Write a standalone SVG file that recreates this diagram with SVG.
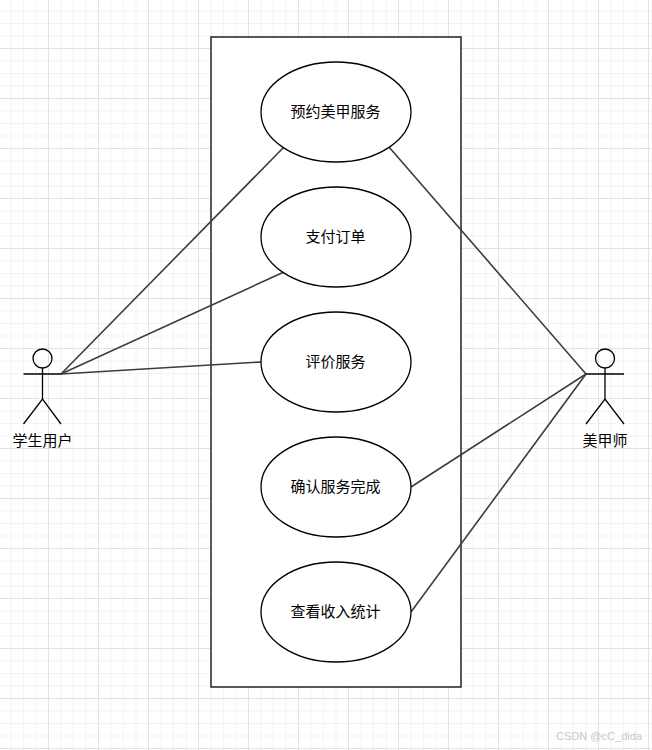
<svg xmlns="http://www.w3.org/2000/svg" width="652" height="750" viewBox="0 0 652 750">
<style>
.minor{stroke:#f3f3f3;stroke-width:1;fill:none}
.major{stroke:#e2e2e2;stroke-width:1;fill:none}
.shape{fill:#fff;stroke:#000;stroke-width:1.3}
.stick{fill:none;stroke:#000;stroke-width:1.3}
.conn{fill:none;stroke:#3c3c3c;stroke-width:1.6}
text{font-family:"Noto Sans CJK SC","Liberation Sans",sans-serif;font-size:15px;font-weight:400;text-anchor:middle;fill:#000}
.wm{font-family:"Liberation Sans",sans-serif;font-size:11px;font-weight:400;fill:#c8c8c8;text-anchor:start}
</style>
<defs>
<pattern id="grid" width="50" height="50" patternUnits="userSpaceOnUse" x="-2" y="-2">
<path class="minor" d="M13 0V50M25.500 0V50M38 0V50M0 13H50M0 25.500H50M0 38H50"/>
<path class="major" d="M0.500 0V50M0 0.500H50"/>
</pattern>
</defs>
<rect width="652" height="750" fill="#fff"/>
<rect width="652" height="750" fill="url(#grid)"/>
<rect id="boundary" class="shape" x="211" y="37" width="250" height="650"/>
<g id="connectors">
<path class="conn" d="M61 374L284 147"/>
<path class="conn" d="M61 374L284 272"/>
<path class="conn" d="M61 374L261 362"/>
<path class="conn" d="M586 374L389 147"/>
<path class="conn" d="M586 374L411 487"/>
<path class="conn" d="M586 374L411 612"/>
</g>
<g id="uc1"><ellipse class="shape" cx="336" cy="112" rx="75" ry="50"/><text x="335.500" y="117">预约美甲服务</text></g>
<g id="uc2"><ellipse class="shape" cx="336" cy="237" rx="75" ry="50"/><text x="335.500" y="242">支付订单</text></g>
<g id="uc3"><ellipse class="shape" cx="336" cy="362" rx="75" ry="50"/><text x="335.500" y="367">评价服务</text></g>
<g id="uc4"><ellipse class="shape" cx="336" cy="487" rx="75" ry="50"/><text x="335.500" y="492">确认服务完成</text></g>
<g id="uc5"><ellipse class="shape" cx="336" cy="612" rx="75" ry="50"/><text x="335.500" y="617">查看收入统计</text></g>
<g id="actor-student"><circle class="stick" cx="42.500" cy="358.500" r="9.500"/><path class="stick" d="M42.500 368V399M23.500 374H61M23.500 424L42.500 399L61 424"/><text x="42.500" y="445.500">学生用户</text></g>
<g id="actor-tech"><circle class="stick" cx="605" cy="358.500" r="9.500"/><path class="stick" d="M605 368V399M586 374H624M586 424L605 399L624 424"/><text x="605" y="445.500">美甲师</text></g>
<text class="wm" x="556" y="740" textLength="86" lengthAdjust="spacingAndGlyphs">CSDN @cC_dida</text>
</svg>
